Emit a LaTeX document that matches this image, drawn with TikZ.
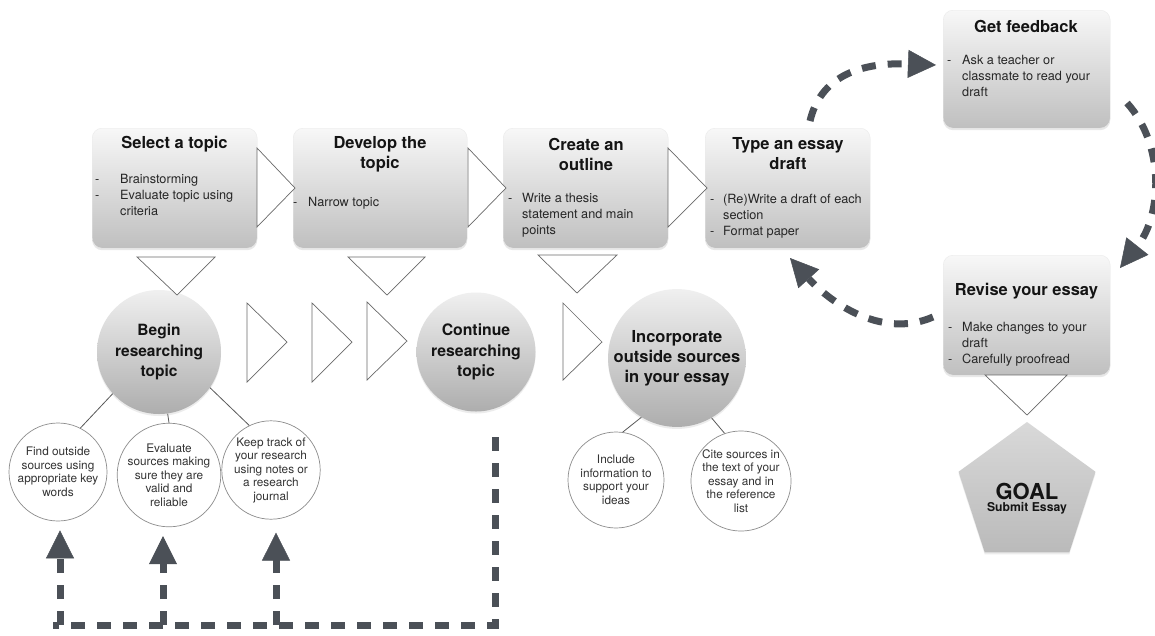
\documentclass[tikz,border=0pt]{standalone}
\usepackage{fontspec}
\setmainfont{TeX Gyre Heros}
\usetikzlibrary{arrows.meta,shapes.geometric,shadows,calc}
\definecolor{darr}{RGB}{75,80,87}
\definecolor{trigray}{RGB}{105,105,105}
\newcommand\fs[2]{\fontsize{#1}{#2}\selectfont}
\newcommand\dsh[1]{\makebox[#1][l]{-}}
\begin{document}
\begin{tikzpicture}[x=1pt,y=-1pt,
  box/.style={rectangle, rounded corners=10pt, top color=black!3, bottom color=black!25,
    draw=black!8, line width=0.4pt, anchor=north west, inner sep=0pt,
    drop shadow={opacity=0.18, shadow xshift=0pt, shadow yshift=-2pt}},
  ttl/.style={font=\fs{16.5}{20}\bfseries, align=center, inner sep=0pt, text=black!92},
  body/.style={font=\fs{12.7}{16}, align=left, anchor=north west, inner sep=0pt, text=black!85},
  bigc/.style={circle, top color=black!6, bottom color=black!32, draw=none, inner sep=0pt,
    align=center, text=black!92,
    drop shadow={opacity=0.15, shadow xshift=0pt, shadow yshift=-2pt}},
  smallc/.style={circle, draw=black!45, line width=0.7pt, fill=white, inner sep=0pt,
    align=center, font=\fs{11.8}{13.5}, text=black!80},
  tri/.style={draw=trigray, line width=0.7pt, fill=white, line join=miter},
  conn/.style={draw=black!65, line width=0.8pt},
  dl/.style={draw=darr, line width=7pt, dash pattern=on 14pt off 12pt},
  arr/.style={-{Triangle[length=28pt,width=28pt,line width=0.5pt]}},
]
\useasboundingbox (0,0) rectangle (1155,635);
\fill[white] (0,0) rectangle (1155,635);
\clip (0,0) rectangle (1155,635);

% ---- top row boxes
\node[box, minimum width=165pt, minimum height=120pt] (b1) at (92,128) {};
\node[box, minimum width=174pt, minimum height=120pt] (b2) at (293,128) {};
\node[box, minimum width=165pt, minimum height=120pt] (b3) at (503,128) {};
\node[box, minimum width=165pt, minimum height=120pt] (b4) at (705,128) {};
\node[box, minimum width=167pt, minimum height=118pt] (gf) at (943,10) {};
\node[box, minimum width=167pt, minimum height=120pt] (rv) at (943,255) {};

\node[ttl] (b1t) at (174.5,144) {Select a topic};
\node[ttl] (b2t) at (380,154) {Develop the\\topic};
\node[ttl] (b3t) at (586,154) {Create an\\outline};
\node[ttl] (b4t) at (788,154) {Type an essay\\draft};
\node[ttl] (gft) at (1026,26) {Get feedback};
\node[ttl] (rvt) at (1026.5,291) {Revise your essay};

\node[body] (b1b) at (95,174.5) {\dsh{25pt}Brainstorming\\\dsh{25pt}Evaluate topic using\\\hspace*{25pt}criteria};
\node[body] (b2b) at (293,197.5) {\dsh{15pt}Narrow topic};
\node[body] (b3b) at (508,193.5) {\dsh{14pt}Write a thesis\\\hspace*{14pt}statement and main\\\hspace*{14pt}points};
\node[body] (b4b) at (710,193.5) {\dsh{13pt}(Re)Write a draft of each\\\hspace*{13pt}section\\\dsh{13pt}Format paper};
\node[body] (gfb) at (947,55.5) {\dsh{15pt}Ask a teacher or\\\hspace*{15pt}classmate to read your\\\hspace*{15pt}draft};
\node[body] (rvb) at (948,322.5) {\dsh{14pt}Make changes to your\\\hspace*{14pt}draft\\\dsh{14pt}Carefully proofread};

% ---- big circles
\node[bigc, minimum size=124pt, font=\fs{15.5}{20.5}\bfseries] (begin) at (159,352) {Begin\\researching\\topic};
\node[bigc, minimum size=119pt, font=\fs{15.8}{20.5}\bfseries] (cont) at (476,352) {Continue\\researching\\topic};
\node[bigc, minimum size=136pt, font=\fs{16.5}{20}\bfseries] (inc) at (677,358) {Incorporate\\outside sources\\in your essay};

% ---- small circles
\node[smallc, minimum size=98pt] (find) at (58,472) {Find outside\\sources using\\appropriate key\\words};
\node[smallc, minimum size=102pt] (eval) at (169,475) {Evaluate\\sources making\\sure they are\\valid and\\reliable};
\node[smallc, minimum size=98pt] (keep) at (271,470) {Keep track of\\your research\\using notes or\\a research\\journal};
\node[smallc, minimum size=96pt] (incl) at (616,480) {Include\\information to\\support your\\ideas};
\node[smallc, minimum size=97pt] (cite) at (741,481) {Cite sources in\\the text of your\\essay and in\\the reference\\list};

% ---- goal
\node[regular polygon, regular polygon sides=5, minimum size=144pt, inner sep=0pt,
  top color=black!15, bottom color=black!27, draw=none,
  drop shadow={opacity=0.15, shadow xshift=0pt, shadow yshift=-2pt}] (goal) at (1027,494) {};
\node[align=center, inner sep=0pt, text=black!92] (goalt) at (1027,499)
  {\fs{22}{24}\bfseries GOAL\\\fs{12.2}{17.4}\bfseries Submit Essay};

% ---- outline triangles
\draw[tri] (257,148) -- (257,227) -- (295,188) -- cycle;
\draw[tri] (468,148) -- (468,227) -- (506,188) -- cycle;
\draw[tri] (668,148) -- (668,227) -- (707,188) -- cycle;
\draw[tri] (137,257) -- (215,257) -- (177,295) -- cycle;
\draw[tri] (348,257) -- (425,257) -- (387,295) -- cycle;
\draw[tri] (538,255) -- (617,255) -- (577,293) -- cycle;
\draw[tri] (247,303) -- (247,382) -- (287,342) -- cycle;
\draw[tri] (312,303) -- (312,382) -- (352,342) -- cycle;
\draw[tri] (367,302) -- (367,380) -- (407,341) -- cycle;
\draw[tri] (563,303) -- (563,380) -- (602,342) -- cycle;
\draw[tri] (985,375) -- (1067,375) -- (1027,415) -- cycle;

% ---- thin connectors
\draw[conn] (begin.222) -- (find.63);
\draw[conn] (begin.-82) -- (eval.north);
\draw[conn] (begin.-35) -- (keep.116);
\draw[conn] (inc.239) -- (incl.82);
\draw[conn] (inc.-60) -- (cite.109);

% ---- bottom dashed loop
\coordinate (cs) at (495,437);
\coordinate (cb) at (495,625);
\coordinate (cl) at (53,625);
\draw[dl] (cs) -- (cb) -- (cl);
\coordinate (k1) at (60,625);
\coordinate (k2) at (163,625);
\coordinate (k3) at (276,625);
\draw[dl,arr,shorten >=9pt] (k1) -- (k1 |- find.south);
\draw[dl,arr,shorten >=9pt] (k2) -- (k2 |- eval.south);
\draw[dl,arr,shorten >=13pt] (k3) -- (k3 |- keep.south);

% ---- feedback cycle
\coordinate (a1) at (810,121);
\coordinate (a1e) at (936,65);
\coordinate (a2) at (1127,103);
\coordinate (a2e) at (1120,268);
\coordinate (a3) at (933,317);
\coordinate (a3e) at (790,258);
\draw[dl,arr] (a1) .. controls (820,78) and (858,62) .. (a1e);
\draw[dl,arr] (a2) .. controls (1165,145) and (1162,215) .. (a2e);
\draw[dl,arr] (a3) .. controls (880,340) and (828,300) .. (a3e);
\end{tikzpicture}
\end{document}
